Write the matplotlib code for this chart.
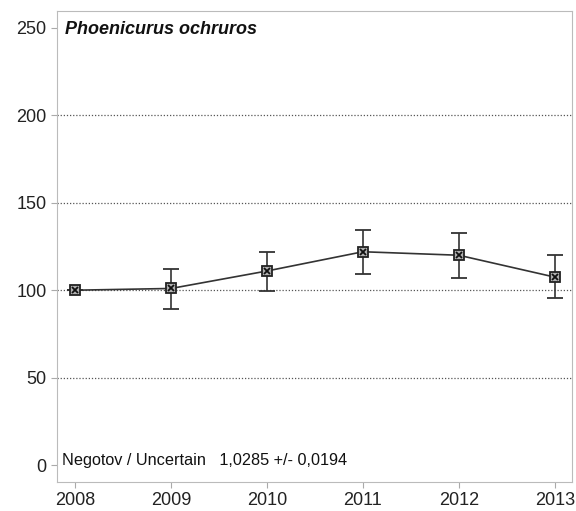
import matplotlib
matplotlib.use('Agg')
import matplotlib.pyplot as plt
import numpy as np

plt.rcParams['font.family'] = ['Liberation Sans', 'DejaVu Sans']

years = [2008, 2009, 2010, 2011, 2012, 2013]
index = [100, 101, 111, 122, 120, 107.5]
err_low = [100, 89, 99.5, 109, 107, 95.5]
err_high = [100, 112, 122, 134.5, 133, 120]

species = 'Phoenicurus ochruros'
trend_text = 'Negotov / Uncertain   1,0285 +/- 0,0194'

fig = plt.figure(figsize=(5.76, 5.11), dpi=100)
ax = fig.add_axes([57/576, 29/511, 515/576, 471/511])

yerr = np.array([np.array(index) - np.array(err_low), np.array(err_high) - np.array(index)])
ax.errorbar(years, index, yerr=yerr, color='#333333', lw=1.2, elinewidth=1.2,
            capsize=6, capthick=1.2, marker='s', ms=7, mfc='#b0b0b0', mec='#222222', mew=1.3)
ax.plot(years, index, ls='none', marker='x', ms=5, color='#111111', mew=1.3, zorder=5)

for y in [50, 100, 150, 200]:
    ax.axhline(y, color='#555555', ls=(0, (1, 1.5)), lw=0.9, zorder=0)

ax.set_xlim(2007.81, 2013.18)
ax.set_ylim(-9.7, 259.7)
ax.set_xticks(years)
ax.set_yticks([0, 50, 100, 150, 200, 250])
ax.tick_params(labelsize=13, colors='#222222', length=4, color='#aaaaaa')
for s in ax.spines.values():
    s.set_color('#bbbbbb')

ax.text(0.016, 0.96, species, transform=ax.transAxes, fontsize=13,
        fontweight='bold', fontstyle='italic', va='center', color='#111111')
ax.text(0.01, 0.045, trend_text, transform=ax.transAxes, fontsize=11.7,
        va='center', color='#111111')

fig.savefig('out.png', dpi=100)
